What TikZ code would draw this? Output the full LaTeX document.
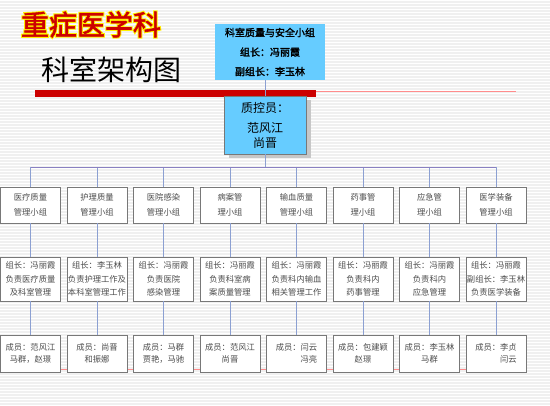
\documentclass[tikz,border=0pt]{standalone}
\usepackage{fontspec}
\usepackage{tikz}
\usetikzlibrary{shadows}
\newfontfamily\cjk{Noto Sans CJK SC}
\newfontfamily\cjkb[FakeBold=2]{Noto Sans CJK SC}
\newfontfamily\cjkhalo[FakeBold=9]{Noto Sans CJK SC}
\definecolor{skyfill}{RGB}{102,204,255}
\definecolor{linkblue}{RGB}{140,160,210}
\definecolor{pagegray}{RGB}{240,240,240}
\definecolor{boxedge}{RGB}{120,120,120}
\definecolor{barred}{RGB}{204,0,0}
\pgfdeclarelayer{bg}
\pgfdeclarelayer{mid}
\pgfsetlayers{bg,mid,main}

\begin{document}
\begin{tikzpicture}[x=1pt, y=-1pt,
    box/.style={draw=boxedge, line width=0.9pt, fill=white, align=center,
      inner xsep=1pt, inner ysep=0pt, minimum width=60pt, text=black!70},
    grpbox/.style={box, minimum height=36pt, font=\cjk\fontsize{8.3}{15}\selectfont},
    leadbox/.style={box, minimum height=44pt, font=\cjk\fontsize{8.3}{13.5}\selectfont},
    membox/.style={box, minimum height=37pt, font=\cjk\fontsize{8.3}{12.5}\selectfont},
    conn/.style={draw=linkblue, line width=0.8pt}]
    \useasboundingbox (0,0) rectangle (550,406);
    % page
    \begin{pgfonlayer}{bg}
      \fill[pagegray] (0,0) rectangle (550,406);
      \foreach \y in {1,4,...,406}
        \draw[white, line width=1pt] (0,\y) -- (550,\y);
    \end{pgfonlayer}
    % heading
    \node[text=barred, font=\cjkb\fontsize{28}{28}\selectfont] (dept) at (91,24.5)
      {\rlap{\cjkhalo\color{yellow}重症医学科}重症医学科};
    \node[font=\cjk\fontsize{28}{28}\selectfont] (chart) at (111.5,70) {科室架构图};
    \fill[barred] (35,90.5) rectangle (316,97);
    \draw[red!45, line width=0.6pt] (316,91) -- (516,91);
    % top
    \node[fill=skyfill, minimum width=110pt, minimum height=56pt, align=center,
      font=\cjkb\fontsize{10}{19.5}\selectfont] (team) at (270,52)
      {科室质量与安全小组\\组长：冯丽霞\\副组长：李玉林};
    \node[fill=skyfill, draw=boxedge, minimum width=82pt, minimum height=58pt, align=center,
      drop shadow={shadow xshift=5pt, shadow yshift=-4pt, fill=black!22, opacity=1},
      font=\cjk\fontsize{12}{15}\selectfont] (qc) at (265,125)
      {质控员：\\[5pt]范风江\\尚晋};
    \draw[conn] (qc.north) -- (qc.north |- team.south);
    % groups
    \foreach \i/\ga/\la/\ma in {
      1/{医疗质量\\管理小组}/{组长：冯丽霞\\负责医疗质量\\及科室管理}/{成员：范风江\\马群，赵璟},
      2/{护理质量\\管理小组}/{组长：李玉林\\负责护理工作及\\本科室管理工作}/{成员：尚晋\\和振娜},
      3/{医院感染\\管理小组}/{组长：冯丽霞\\负责医院\\感染管理}/{成员：马群\\贾艳，马驰},
      4/{病案管\\理小组}/{组长：冯丽霞\\负责科室病\\案质量管理}/{成员：范风江\\尚晋},
      5/{输血质量\\管理小组}/{组长：冯丽霞\\负责科内输血\\相关管理工作}/{成员：闫云\\\hspace*{3em}冯亮},
      6/{药事管\\理小组}/{组长：冯丽霞\\负责科内\\药事管理}/{成员：包建颖\\赵璟},
      7/{应急管\\理小组}/{组长：冯丽霞\\负责科内\\应急管理}/{成员：李玉林\\马群},
      8/{医学装备\\管理小组}/{组长：冯丽霞\\副组长：李玉林\\负责医学装备}/{成员：李贞\\\hspace*{3em}闫云}}
    {
      \pgfmathsetmacro{\x}{30.5+66.5*(\i-1)}
      \coordinate (bus\i) at (\x,167);
      \node[grpbox] (grp\i) at (\x,205) {\ga};
      \node[leadbox] (lead\i) at (\x,279) {\la};
      \node[membox] (mem\i) at (\x,353.5) {\ma};
      \draw[conn] (bus\i) -- (grp\i);
      \draw[conn] (grp\i) -- (lead\i);
      \draw[conn] (lead\i) -- (mem\i);
    }
    \draw[conn, draw=linkblue!80!violet] (bus1) -- (bus8);
    \draw[conn] (qc.south) -- (qc.south |- bus1);
    \begin{pgfonlayer}{mid}
      \draw[red!45, line width=0.8pt] ([yshift=3pt]mem1.south) -- ([yshift=3pt]mem8.south);
    \end{pgfonlayer}
\end{tikzpicture}
\end{document}
